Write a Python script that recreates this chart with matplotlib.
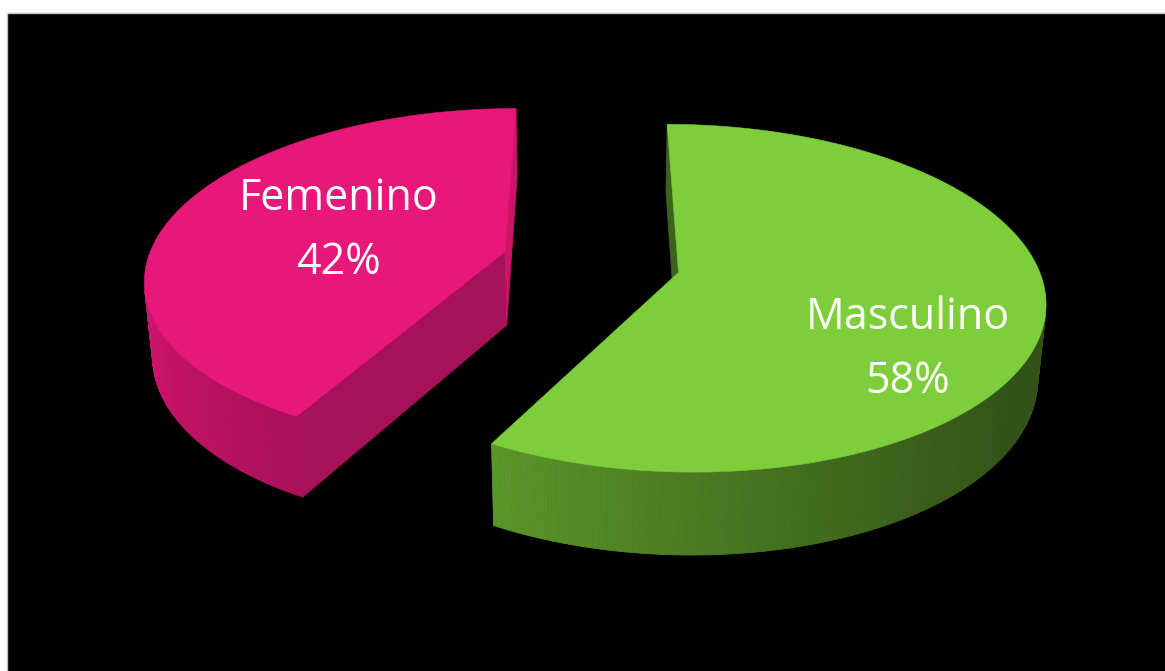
#!/usr/bin/env python3
"""
Gráfico de pastel 3D seccionado: distribución por sexo
"""

import numpy as np
import matplotlib.pyplot as plt
import matplotlib.colors as mcolors
from matplotlib.patches import Polygon, Rectangle

# Datos
categorias = ['Masculino', 'Femenino']
porcentajes = [58, 42]
colores = ['#7DCE3A', '#E8177A']

# Ubicación de las etiquetas dentro de cada porción (ángulo en grados, radio relativo)
angulo_etiqueta = [-36.4, 165.2]
radio_etiqueta = [0.72, 0.50]

# Cámara en perspectiva y geometría del pastel (radio = 1)
ELEV = np.radians(27.8)
DIST = 6.03
FOCAL = 2159.0
CX, CY = 591.0, 262.0
SEPARACION = 0.25
GROSOR = 0.238

CAMARA = np.array([0.0, -DIST * np.cos(ELEV), DIST * np.sin(ELEV)])


def proyectar(x, y, z):
    """Proyección en perspectiva de puntos 3D a píxeles de la figura"""
    x = np.asarray(x, float)
    y = np.asarray(y, float)
    z = np.asarray(z, float)
    zc = DIST + y * np.cos(ELEV) - z * np.sin(ELEV)
    yc = y * np.sin(ELEV) + z * np.cos(ELEV)
    return np.column_stack([CX + FOCAL * x / zc, CY - FOCAL * yc / zc])


def sombrear(color, factor):
    rgb = np.array(mcolors.to_rgb(color)) * factor
    return tuple(np.clip(rgb, 0, 1))


def luz_lateral(phi):
    """Intensidad de la cara curva según la dirección de su normal"""
    return 0.655 - 0.255 * np.cos(phi) + 0.055 * np.sin(phi)


def luz_corte(phi):
    """Intensidad de las caras planas de corte"""
    return 0.675 + 0.195 * np.cos(phi) + 0.261 * np.sin(phi)


def cara(ax, xs, ys, zs, color, lw=0.6):
    ax.add_patch(Polygon(proyectar(xs, ys, zs), closed=True,
                         facecolor=color, edgecolor=color, lw=lw))


fig = plt.figure(figsize=(11.65, 6.71), dpi=100, facecolor='white')
ax = fig.add_axes([0, 0, 1, 1])
ax.set_xlim(0, 1165)
ax.set_ylim(671, 0)
ax.axis('off')

# Fondo negro con borde gris
ax.add_patch(Rectangle((6.5, 12.5), 1170, 670, facecolor='black',
                       edgecolor='#BFBFBF', lw=1))

# Porciones: empiezan a las 12 en punto y avanzan en sentido horario
porciones = []
inicio = 90.0
for cat, pct, col, ang, rad in zip(categorias, porcentajes, colores,
                                   angulo_etiqueta, radio_etiqueta):
    barrido = pct * 3.6
    t0 = np.radians(inicio)
    t1 = np.radians(inicio - barrido)
    medio = 0.5 * (t0 + t1)
    porciones.append(dict(cat=cat, pct=pct, col=col, t0=t0, t1=t1,
                          ox=SEPARACION * np.cos(medio),
                          oy=SEPARACION * np.sin(medio),
                          ang=np.radians(ang), rad=rad))
    inicio -= barrido

# Dibujar primero la porción más lejana
porciones.sort(key=lambda p: -p['oy'])

for p in porciones:
    ox, oy, t0, t1, col = p['ox'], p['oy'], p['t0'], p['t1'], p['col']
    centro = np.array([ox, oy, 0.0])

    # Caras de corte visibles
    for borde, normal in [(t0, t0 + np.pi / 2), (t1, t1 - np.pi / 2)]:
        n = np.array([np.cos(normal), np.sin(normal), 0.0])
        if np.dot(CAMARA - centro, n) <= 0:
            continue
        bx, by = ox + np.cos(borde), oy + np.sin(borde)
        cara(ax, [ox, bx, bx, ox], [oy, by, by, oy], [0, 0, -GROSOR, -GROSOR],
             sombrear(col, luz_corte(normal)))

    # Cara lateral curva, en franjas finas
    phi = np.linspace(t1, t0, int(np.degrees(t0 - t1)) * 2 + 1)
    for a, b in zip(phi[:-1], phi[1:]):
        m = 0.5 * (a + b)
        n = np.array([np.cos(m), np.sin(m), 0.0])
        punto = centro + n
        if np.dot(CAMARA - punto, n) <= 0:
            continue
        ang = np.array([a, b, b, a])
        cara(ax, ox + np.cos(ang), oy + np.sin(ang), [0, 0, -GROSOR, -GROSOR],
             sombrear(col, luz_lateral(m)))

    # Cara superior
    arco = np.linspace(t0, t1, 300)
    xs = np.concatenate([[ox], ox + np.cos(arco)])
    ys = np.concatenate([[oy], oy + np.sin(arco)])
    cara(ax, xs, ys, np.zeros_like(xs), col, lw=0.4)

    # Etiqueta
    lx = ox + p['rad'] * np.cos(p['ang'])
    ly = oy + p['rad'] * np.sin(p['ang'])
    sx, sy = proyectar(lx, ly, 0.0)[0]
    ax.text(sx, sy, f"{p['cat']}\n{p['pct']}%", ha='center', va='center',
            color='white', fontsize=31, family='Open Sans', linespacing=1.58)

fig.savefig('out.png', dpi=100, facecolor='white')
